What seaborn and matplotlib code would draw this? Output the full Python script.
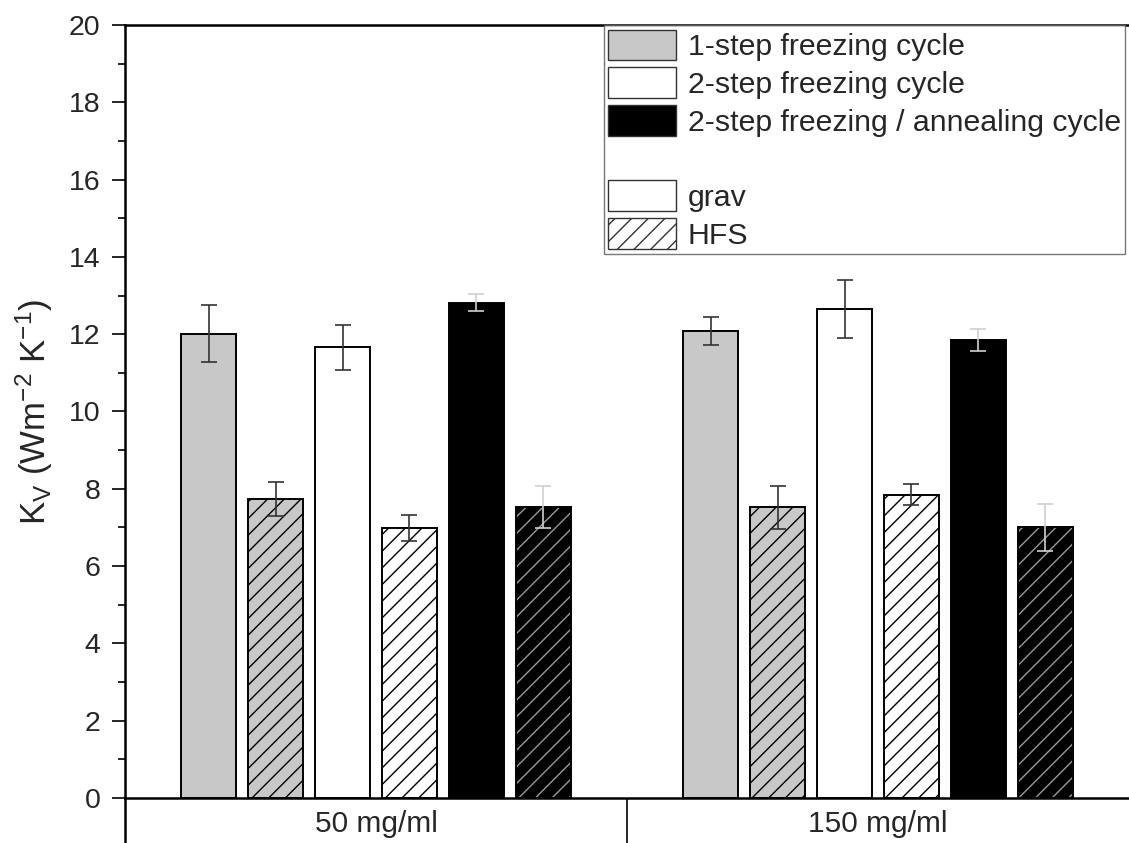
import matplotlib
matplotlib.use("Agg")
import matplotlib.pyplot as plt
from matplotlib.patches import Patch, Rectangle
from matplotlib.ticker import MultipleLocator, FixedLocator
import seaborn as sns
import pandas as pd

concentrations = ["50 mg/ml", "150 mg/ml"]
series = ["1-step grav", "1-step HFS", "2-step grav", "2-step HFS", "anneal grav", "anneal HFS"]
vals_50 = [12.01, 7.74, 11.66, 6.98, 12.82, 7.53]
err_50 = [0.74, 0.44, 0.585, 0.335, 0.22, 0.54]
vals_150 = [12.09, 7.52, 12.64, 7.85, 11.84, 7.00]
err_150 = [0.365, 0.55, 0.75, 0.28, 0.285, 0.61]
legend_cycles = ["1-step freezing cycle", "2-step freezing cycle", "2-step freezing / annealing cycle"]
legend_methods = ["grav", "HFS"]

GRAY = "#c8c8c8"
face = [GRAY, GRAY, "white", "white", "black", "black"]
hatched = [False, True, False, True, False, True]

rows = []
for c, vals, errs in [(concentrations[0], vals_50, err_50), (concentrations[1], vals_150, err_150)]:
    for s, v, e in zip(series, vals, errs):
        rows.append({"conc": c, "series": s, "value": v, "err": e})
df = pd.DataFrame(rows)

sns.set_style("ticks")
plt.rcParams["font.family"] = ["Liberation Sans", "DejaVu Sans"]
plt.rcParams["mathtext.fontset"] = "custom"
plt.rcParams["mathtext.rm"] = "Liberation Sans"
plt.rcParams["mathtext.it"] = "Liberation Sans:italic"
plt.rcParams["hatch.linewidth"] = 1.0

fig = plt.figure(figsize=(11.29, 8.43), dpi=100)
ax = fig.add_axes([125 / 1129, 1 - 798 / 843, 1 - 125 / 1129, (798 - 25) / 843])

sns.barplot(data=df, x="conc", y="value", hue="series", order=concentrations,
            hue_order=series, palette=dict(zip(series, face)), saturation=1,
            width=0.8, gap=0.175, errorbar=None, edgecolor="black", linewidth=1.4,
            legend=False, ax=ax)

bar_containers = list(ax.containers)
for i, cont in enumerate(bar_containers):
    s = series[i]
    sub = df[df["series"] == s].set_index("conc").loc[concentrations]
    xs = []
    for p in cont.patches:
        p.set_facecolor(face[i])
        if hatched[i]:
            p.set_hatch("//")
            if face[i] == "black":
                p.set_edgecolor("#9a9a9a")
                ax.add_patch(Rectangle((p.get_x(), p.get_y()), p.get_width(), p.get_height(),
                                       fill=False, edgecolor="black", linewidth=1.4, zorder=p.get_zorder() + 0.1))
        xs.append(p.get_x() + p.get_width() / 2)
    ecol = "#d0d0d0" if face[i] == "black" else "#333333"
    ax.errorbar(xs, sub["value"].values, yerr=sub["err"].values, fmt="none",
                ecolor=ecol, elinewidth=1.2, capsize=5.5, capthick=1.2, zorder=5)

ax.set_xlim(-0.5, 1.5)
ax.set_ylim(0, 20)
ax.yaxis.set_major_locator(MultipleLocator(2))
ax.yaxis.set_minor_locator(MultipleLocator(1))
ax.tick_params(axis="y", which="major", length=9.5, width=1.4, labelsize=20.5, direction="out", pad=8)
ax.tick_params(axis="y", which="minor", length=5, width=1.4, direction="out")
ax.xaxis.set_minor_locator(FixedLocator([0.5]))
ax.tick_params(axis="x", which="major", length=0, labelsize=21.5, pad=9)
ax.tick_params(axis="x", which="minor", length=33, width=1.4, direction="out")
ax.set_xlabel("")
ax.set_ylabel(r"K$_\mathregular{V}$ (Wm$^\mathregular{-2}$ K$^\mathregular{-1}$)", fontsize=25, labelpad=10)

for sp in ["left", "bottom", "top"]:
    ax.spines[sp].set_linewidth(1.8)
    ax.spines[sp].set_color("black")
ax.spines["right"].set_visible(False)

# extend left spine below axis like the reference
ax.plot([-0.5, -0.5], [0, -1.15], color="black", lw=1.8, clip_on=False)

handles = [Patch(facecolor=GRAY, edgecolor="#333333", linewidth=1.0),
           Patch(facecolor="white", edgecolor="#333333", linewidth=1.0),
           Patch(facecolor="black", edgecolor="#333333", linewidth=1.0),
           Patch(facecolor="none", edgecolor="none", linewidth=0),
           Patch(facecolor="white", edgecolor="#333333", linewidth=1.0),
           Patch(facecolor="white", edgecolor="#333333", linewidth=1.0, hatch="//")]
labels = legend_cycles + [""] + legend_methods
leg = ax.legend(handles, labels, loc="upper right", bbox_to_anchor=(0.9965, 1.0),
                borderaxespad=0, fontsize=21.8, frameon=True, fancybox=False,
                handlelength=2.22, handleheight=1.19, labelspacing=0.2,
                handletextpad=0.4, borderpad=0.15)
leg.get_frame().set_edgecolor("#555555")
leg.get_frame().set_linewidth(1.0)

fig.savefig("out.png", dpi=100)
